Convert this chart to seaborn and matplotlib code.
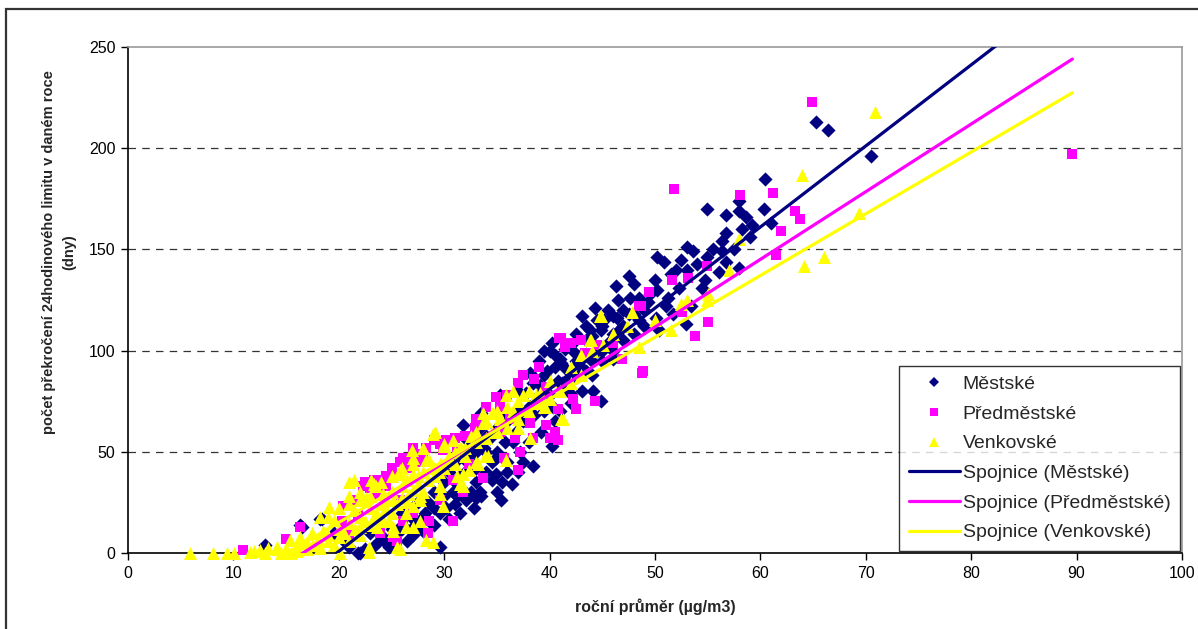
import numpy as np
import pandas as pd
import matplotlib
matplotlib.use("Agg")
import matplotlib.pyplot as plt
from matplotlib.lines import Line2D
from matplotlib.patches import Rectangle
import seaborn as sns

# ---------------- data ----------------
mestske_x = [13.0, 16.5, 18.2, 16.3, 18.4, 19.5, 20.5, 21.0, 21.8, 22.0, 22.5, 23.2, 23.8, 24.5, 24.8, 25.5, 25.0, 26.0, 26.5, 27.0,
             27.0, 27.5, 28.0, 28.6, 28.2, 29.0, 29.6, 29.6, 30.2, 30.5, 31.0, 31.2, 31.5, 32.1, 32.5, 32.8, 33.4, 33.0, 34.0, 33.5,
             30.0, 30.5, 31.0, 31.5, 31.8, 32.2, 32.5, 33.0, 33.4, 33.5, 33.8, 34.3, 34.5, 34.9, 34.9, 35.3, 35.4, 35.5, 35.8, 36.0,
             36.4, 36.8, 37.0, 37.2, 37.8, 38.1, 38.4, 38.4, 38.7, 39.1, 39.2, 39.5, 39.8, 40.0, 40.2, 40.2, 40.3, 40.5, 40.8, 41.1,
             41.2, 41.6, 41.9, 42.2, 42.5, 42.8, 43.1, 43.1, 43.5, 43.8, 44.1, 44.3, 44.5, 44.9, 44.9, 45.2, 45.5, 46.0, 46.3, 46.4,
             46.6, 47.0, 47.5, 47.6, 48.0, 48.5, 49.0, 49.3, 50.1, 50.2, 50.2, 50.4, 50.9, 51.0, 51.2, 51.7, 52.0, 52.3, 52.9, 53.0,
             53.4, 53.6, 54.0, 54.5, 54.7, 54.9, 54.9, 56.1, 56.4, 56.4, 56.7, 56.7, 56.7, 58.0, 58.0, 58.0, 58.3, 58.6, 59.0, 59.2,
             60.3, 60.4, 61.0, 65.3, 66.4, 70.5,
             39.0, 40.0, 41.0, 42.0, 43.0, 44.0, 45.0, 46.0, 47.0, 48.0, 49.0, 44.0, 45.0, 46.0, 47.0, 48.0, 41.0, 42.0, 36.0, 37.0,
             38.0, 35.0, 37.5, 36.5, 39.5, 40.5, 43.5, 41.5, 38.5, 34.0, 32.0, 29.0, 27.5, 26.0, 24.0, 23.0, 30.8, 28.5,
             39.5, 40.5, 41.5, 42.5, 43.5, 44.5, 45.5, 46.5, 47.5, 48.5, 49.5, 42.0, 43.0, 44.0, 45.0, 46.0, 37.0, 38.0, 39.0, 36.0,
             35.0, 34.0, 33.0, 32.0, 31.0, 30.0, 29.0, 28.0, 27.0, 26.0, 25.0, 24.0, 37.5, 36.0, 35.0, 34.5, 33.0, 50.0, 51.5, 53.0,
             52.5, 55.5, 57.5]
mestske_y = [4, 13, 17, 14, 17, 10, 6, 3, 0, 0, 2, 3, 6, 5, 3, 10, 8, 12, 6, 13,
             9, 15, 11, 16, 20, 14, 20, 3, 22, 17, 24, 28, 20, 26, 30, 22, 30, 35, 40, 28,
             35, 40, 45, 38, 63, 56, 48, 42, 62, 69, 52, 57, 45, 47, 39, 78, 26, 35, 55, 65,
             34, 60, 70, 50, 79, 89, 84, 43, 75, 83, 60, 88, 90, 78, 104, 53, 72, 98, 85, 94,
             84, 91, 79, 100, 95, 88, 80, 117, 105, 110, 80, 121, 100, 110, 75, 115, 104, 117, 132, 116,
             110, 120, 137, 126, 133, 126, 112, 124, 116, 146, 130, 110, 144, 122, 126, 118, 140, 131, 113, 151,
             122, 149, 143, 131, 135, 170, 146, 139, 154, 149, 167, 158, 144, 174, 169, 141, 160, 166, 156, 162,
             170, 185, 163, 213, 209, 196,
             95, 100, 96, 103, 98, 107, 112, 108, 112, 118, 120, 88, 95, 100, 105, 108, 70, 74, 45, 40,
             55, 50, 65, 55, 70, 65, 90, 82, 68, 50, 40, 30, 25, 20, 15, 10, 30, 25,
             100, 92, 101, 108, 112, 115, 120, 125, 118, 115, 128, 86, 92, 95, 100, 96, 80, 72, 78, 68,
             62, 58, 50, 46, 35, 28, 22, 18, 17, 14, 12, 9, 45, 40, 30, 36, 27, 135, 138, 140,
             145, 150, 150]

predmestske_x = [10.9, 15.0, 16.3, 20.3, 20.4, 21.0, 21.5, 21.8, 22.3, 22.5, 23.3, 23.6, 23.9, 24.5, 24.5, 25.1, 25.5, 25.5, 25.8, 26.1,
                 26.1, 26.4, 26.7, 27.0, 27.0, 27.7, 28.3, 28.5, 28.6, 29.6, 29.6, 29.6, 29.9, 30.2, 30.5, 30.8, 30.8, 31.2, 31.8, 32.4,
                 32.9, 33.4, 33.7, 34.9, 35.3, 35.3, 35.7, 36.2, 36.7, 37.0, 37.2, 37.5, 38.1, 38.4, 39.7, 39.7, 40.0, 40.5, 40.8, 40.8,
                 40.9, 41.1, 42.0, 42.2, 42.5, 43.4, 43.5, 44.3, 46.9, 48.5, 48.7, 48.8, 48.9, 49.4, 51.6, 51.8, 52.6, 53.1, 53.8, 54.9,
                 55.0, 58.1, 61.2, 61.5, 62.0, 63.3, 63.8, 64.9, 89.6,
                 25.0, 25.8, 26.5, 27.5, 28.0, 24.0, 23.0, 27.0, 29.0, 31.0, 32.0, 33.0, 34.0, 36.0, 37.0, 38.5, 39.0, 41.5, 43.0, 44.5,
                 46.0]
predmestske_y = [1.5, 7, 13, 16, 23, 9, 26, 19, 33, 35, 36, 28, 10, 33, 38, 8, 38, 6, 26, 47,
                 16, 44, 47, 20, 48, 49, 52, 10, 16, 54, 26, 39, 51, 56, 56, 16, 36, 50, 30, 44,
                 62, 66, 37, 77, 72, 60, 47, 66, 57, 41, 50, 88, 64, 57, 82, 63, 57, 60, 71, 56,
                 106, 106, 104, 76, 71, 99, 99, 75, 96, 122, 122, 89, 90, 129, 135, 180, 119, 136, 107, 142,
                 114, 177, 178, 147, 159, 169, 165, 223, 197,
                 42, 45, 42, 45, 48, 36, 32, 52, 56, 57, 58, 66, 72, 78, 84, 86, 92, 102, 105, 103,
                 104]

venkovske_x = [5.9, 8.1, 9.4, 10.1, 11.6, 12.5, 13.3, 14.1, 15.4, 16.3, 16.9, 17.5, 18.2, 18.2, 19.1, 19.5, 20.1, 21.0, 21.4, 21.4,
               22.0, 22.6, 22.9, 22.9, 23.1, 23.3, 23.3, 23.6, 23.9, 24.2, 24.4, 24.8, 25.1, 25.1, 25.1, 25.5, 25.8, 25.8, 25.8, 26.4,
               26.4, 26.7, 26.9, 27.0, 27.0, 27.0, 27.0, 27.7, 27.7, 27.7, 28.3, 28.3, 28.6, 28.9, 28.9, 29.1, 29.6, 29.6, 29.6, 29.9,
               30.0, 30.0, 30.8, 31.2, 31.5, 31.5, 31.6, 31.8, 31.8, 32.4, 33.0, 33.2, 33.7, 33.7, 33.9, 34.2, 34.5, 34.6, 35.3, 35.3,
               35.9, 35.9, 36.5, 37.0, 38.1, 38.7, 39.1, 39.5, 39.6, 41.1, 41.3, 43.8, 43.9, 44.8, 44.9, 45.1, 47.3, 47.8, 48.5, 51.5,
               52.5, 54.9, 58.0, 63.9, 64.1, 66.0, 69.4, 70.9,
               30.5, 31.0, 32.0, 32.5, 33.0, 34.0, 34.5, 35.0, 36.0, 36.5, 37.0, 37.5, 38.0, 40.0, 42.0, 43.0, 44.0, 46.0, 50.0, 53.0,
               55.0, 57.0, 12.0, 13.0, 14.0, 15.0, 16.0, 17.0, 18.0, 19.0, 20.0, 21.0, 22.0, 23.0, 24.0, 25.0, 26.0, 26.5, 27.5, 28.0,
               29.0, 21.0, 22.0, 23.5,
               14.5, 15.0, 15.5, 16.0, 16.5, 17.0, 17.5, 18.0, 18.5, 19.0, 19.5, 20.0, 20.5, 21.0, 21.5, 22.0, 22.5, 23.0, 23.5, 24.0,
               24.5, 25.0, 25.5, 26.0, 26.5, 27.0, 27.5, 28.0, 28.5, 29.0, 29.5, 30.0, 30.5, 31.0, 32.0, 33.0, 34.0, 35.0, 36.0, 37.0,
               38.0, 39.0, 40.0, 41.0, 42.0, 43.0, 19.0, 20.0, 21.0, 22.0, 23.0, 24.0, 25.0, 26.0, 27.0, 28.0]
venkovske_y = [0, 0, 0, 0, 0.6, 1.5, 2.3, 3.1, 6.4, 8, 4.8, 9.7, 17.9, 2.3, 22.8, 16.3, 0, 35, 21, 36,
               13, 27, 0.6, 3, 36, 34, 18, 13, 16, 29, 26, 16, 13, 26, 11, 3, 41, 39, 2, 20,
               13, 29, 51, 39, 44, 13, 23, 26, 28, 16, 46, 6.4, 46, 59, 5.6, 60, 33, 44, 29, 23,
               54, 53, 56, 38, 52, 34, 52, 39, 33, 41, 45, 44, 69, 64, 48, 48, 69, 69, 67, 66,
               78, 46, 80, 62, 57, 78, 79, 72, 72, 66, 66, 105, 105, 117, 117, 103, 112, 119, 102, 110,
               123, 125, 155, 187, 142, 146, 168, 218,
               48, 50, 52, 58, 60, 65, 60, 70, 72, 70, 75, 78, 80, 85, 92, 98, 100, 108, 115, 125,
               128, 140, 1, 0, 2, 1, 3, 5, 7, 9, 12, 15, 18, 22, 24, 30, 33, 36, 38, 40,
               42, 28, 30, 33,
               0, 2, 0, 1, 5, 2, 4, 5, 11, 6, 4, 8, 10, 6, 12, 9, 16, 14, 20, 18,
               22, 20, 24, 27, 25, 31, 34, 30, 36, 38, 40, 42, 45, 44, 48, 55, 57, 60, 62, 66,
               70, 74, 76, 80, 84, 88, 18, 22, 24, 26, 28, 35, 38, 42, 47, 52]

# linear trend lines ("Spojnice"): slope, intercept, x-span
trend_names = ["Spojnice (Městské)", "Spojnice (Předměstské)", "Spojnice (Venkovské)"]
trend_slope = [4.006, 3.343, 3.05]
trend_intercept = [-79.3, -55.5, -45.9]
trend_xmin = [13.0, 10.9, 5.9]
trend_xmax = [85.0, 89.6, 89.6]

series_names = ["Městské", "Předměstské", "Venkovské"]
x_ticks = list(range(0, 101, 10))
y_ticks = list(range(0, 251, 50))

# ---------------- styling ----------------
sns.set_theme(style="white")
plt.rcParams["font.family"] = ["Liberation Sans", "DejaVu Sans"]

colors = ["#000080", "#FF00FF", "#FFFF00"]
markers = ["D", "s", "^"]
sizes = [52, 58, 88]

W, H = 1198, 629
fig = plt.figure(figsize=(W / 100, H / 100), dpi=100)
fig.patch.set_facecolor("white")
ax = fig.add_axes([128 / W, 1 - 553 / H, (1182 - 128) / W, (553 - 47) / H])

frames = [
    pd.DataFrame({"x": mestske_x, "y": mestske_y}),
    pd.DataFrame({"x": predmestske_x, "y": predmestske_y}),
    pd.DataFrame({"x": venkovske_x, "y": venkovske_y}),
]
for df, c, m, s in zip(frames, colors, markers, sizes):
    sns.scatterplot(data=df, x="x", y="y", ax=ax, color=c, marker=m, s=s,
                    linewidth=0, legend=False, zorder=3, clip_on=False)

for k in range(3):
    xs = np.array([trend_xmin[k], trend_xmax[k]])
    tdf = pd.DataFrame({"x": xs, "y": trend_slope[k] * xs + trend_intercept[k]})
    sns.lineplot(data=tdf, x="x", y="y", ax=ax, color=colors[k], linewidth=2.3,
                 legend=False, zorder=4)

ax.set_xlim(0, 100)
ax.set_ylim(0, 250)
ax.set_xticks(x_ticks)
ax.set_yticks(y_ticks)
ax.set_xticklabels([str(v) for v in x_ticks], fontsize=11.5)
ax.set_yticklabels([str(v) for v in y_ticks], fontsize=11.5)
ax.tick_params(axis="both", direction="out", length=5, width=1, color="black",
               labelcolor="black", bottom=True, left=True, pad=4)

for yv in y_ticks[1:-1]:
    ax.axhline(yv, color="#333333", linewidth=0.9, linestyle=(0, (6, 5)), zorder=1)

ax.spines["left"].set_color("black")
ax.spines["bottom"].set_color("black")
ax.spines["left"].set_linewidth(1.2)
ax.spines["bottom"].set_linewidth(1.2)
ax.spines["top"].set_color("#999999")
ax.spines["right"].set_color("#999999")
ax.spines["top"].set_linewidth(1.2)
ax.spines["right"].set_linewidth(1.2)

ax.set_xlabel("roční průměr (µg/m3)", fontsize=11.5, fontweight="bold", labelpad=13)
ax.set_ylabel("počet překročení 24hodinového limitu v daném roce\n(dny)",
              fontsize=10.5, fontweight="bold", linespacing=1.6)
ax.yaxis.set_label_coords(-0.049, 0.595)

handles = [Line2D([], [], color=colors[k], marker=markers[k], linestyle="none",
                  markersize=[5.5, 5.5, 7][k], markeredgewidth=0) for k in range(3)]
handles += [Line2D([], [], color=colors[k], linewidth=2.3) for k in range(3)]
leg = ax.legend(handles, series_names + trend_names, loc="lower right",
                bbox_to_anchor=(1.0, 0.0), borderaxespad=0.1, frameon=True,
                fancybox=False, edgecolor="black", fontsize=14, handlelength=2.6,
                handletextpad=0.15, labelspacing=0.62, borderpad=0.5)
leg.get_frame().set_linewidth(1.0)
leg.set_zorder(10)

fig.patches.append(Rectangle((6 / W, -0.1), 1.2, 1 - 9 / H + 0.1, transform=fig.transFigure,
                             fill=False, edgecolor="#333333", linewidth=1.6))

fig.savefig("out.png", dpi=100, facecolor="white")
